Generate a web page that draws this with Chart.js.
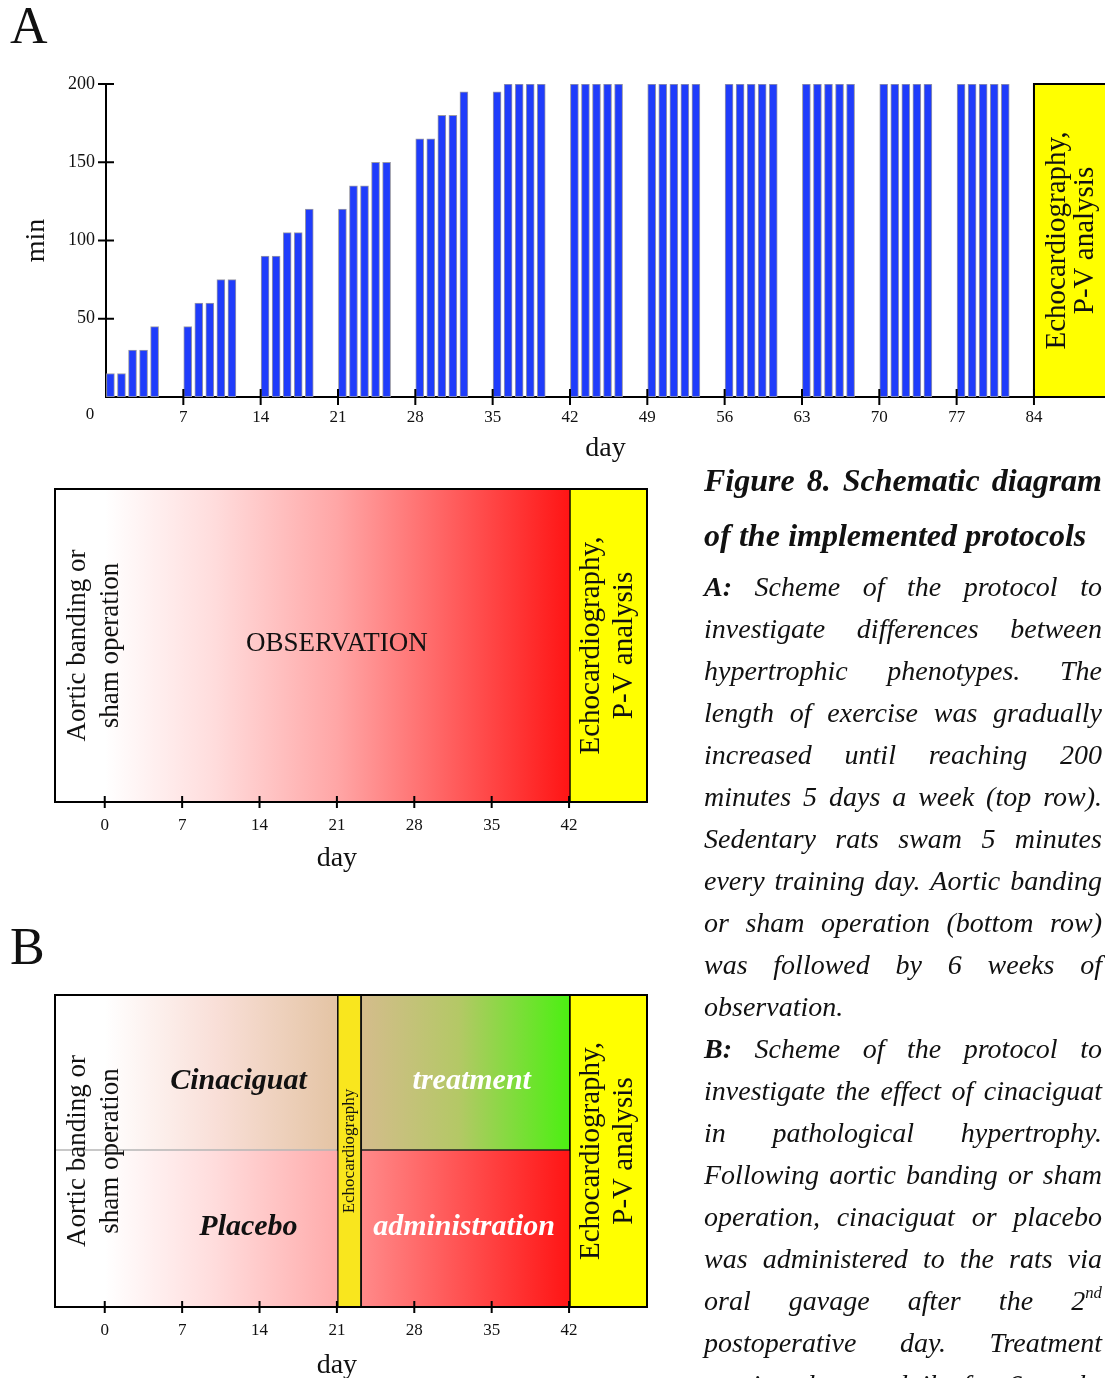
<!DOCTYPE html>
<html>
<head>
<meta charset="utf-8">
<script src="https://cdn.jsdelivr.net/npm/chart.js@4.4.1/dist/chart.umd.min.js"></script>
<style>
  html, body { margin: 0; padding: 0; background: #fff; }
  body { width: 1105px; height: 1378px; overflow: hidden; position: relative;
         font-family: "Liberation Serif", "Times New Roman", serif; color: #111; }
  canvas { position: absolute; left: 0; }
  .panel-label { position: absolute; left: 10px; font-size: 52px; line-height: 1; }
  .caption { position: absolute; left: 704px; width: 398px; font-style: italic; }
  .title { top: 453px; font-size: 32px; font-weight: bold; }
  .title .line { height: 55px; line-height: 55px; }
  .body { top: 566px; font-size: 28px; }
  .body .line { height: 42px; line-height: 42px; }
  .line { display: flex; justify-content: space-between; white-space: nowrap; }
  .line.end { justify-content: flex-start; gap: 0.26em; }
  sup { font-size: 0.6em; vertical-align: 0.7em; line-height: 0; }
</style>
</head>
<body>
<div class="panel-label" style="top:0">A</div>
<div class="panel-label" style="top:921px">B</div>
<canvas id="chartA" width="1105" height="410" style="top:60px"></canvas>
<canvas id="chartObs" width="700" height="410" style="top:470px"></canvas>
<canvas id="chartB" width="700" height="420" style="top:975px"></canvas>
<div class="caption title" id="capTitle"></div>
<div class="caption body" id="capBody"></div>

<script>
(function () {
    'use strict';

    // ---- data: swim training (panel A, top row) ----
    var trainingDays = [0, 1, 2, 3, 4, 7, 8, 9, 10, 11, 14, 15, 16, 17, 18, 21, 22, 23, 24, 25,
        28, 29, 30, 31, 32, 35, 36, 37, 38, 39, 42, 43, 44, 45, 46, 49, 50, 51, 52, 53,
        56, 57, 58, 59, 60, 63, 64, 65, 66, 67, 70, 71, 72, 73, 74, 77, 78, 79, 80, 81];
    var swimMinutes = [15, 15, 30, 30, 45, 45, 60, 60, 75, 75, 90, 90, 105, 105, 120, 120, 135, 135, 150, 150,
        165, 165, 180, 180, 195, 195, 200, 200, 200, 200, 200, 200, 200, 200, 200, 200, 200, 200, 200, 200,
        200, 200, 200, 200, 200, 200, 200, 200, 200, 200, 200, 200, 200, 200, 200, 200, 200, 200, 200, 200];
    var dayTicksA = [0, 7, 14, 21, 28, 35, 42, 49, 56, 63, 70, 77, 84];
    var minuteTicks = [50, 100, 150, 200];
    var finalDayA = 84;

    // ---- data: protocol timelines (days) ----
    var dayTicksB = [0, 7, 14, 21, 28, 35, 42];
    var observationPhase = [-4.5, 42];
    var earlyPhase = [-4.5, 21];
    var echoPhase = [21, 23.25];
    var treatmentPhase = [23.25, 42];
    var finalPhase = [42, 49.05];
    var groups = ['Cinaciguat', 'Placebo'];
    var phaseWords = ['treatment', 'administration'];

    var echoLabel = ['Echocardiography,', 'P-V analysis'];
    var surgeryLabel = ['Aortic banding or', 'sham operation'];

    var SERIF = "'Liberation Serif', 'Times New Roman', serif";
    var YELLOW = '#ffff00';
    var ECHO_YELLOW = '#f9e61e';
    var BLUE = '#1f3cfb';

    // gradient stops: [day, colour]
    var obsStops = [[0, '#ffffff'], [10, '#ffdcdc'], [21, '#ffa6a6'], [42, '#ff1515']];
    var earlyStops = [
        [[0, '#ffffff'], [10, '#f9dfd8'], [21, '#e4c4a4']],
        [[0, '#ffffff'], [10, '#ffdcdc'], [21, '#ffabab']]
    ];
    var treatStops = [
        [[23.25, '#d4bc8c'], [32, '#b4c866'], [42, '#4cf012']],
        [[23.25, '#ff8a8a'], [42, '#ff1515']]
    ];

    function gradient(chart, stops) {
        if (!chart.chartArea) return 'rgba(0,0,0,0)';
        var xs = chart.scales.x;
        var x0 = xs.getPixelForValue(stops[0][0]);
        var x1 = xs.getPixelForValue(stops[stops.length - 1][0]);
        var g = chart.ctx.createLinearGradient(x0, 0, x1, 0);
        stops.forEach(function (s) {
            g.addColorStop((xs.getPixelForValue(s[0]) - x0) / (x1 - x0), s[1]);
        });
        return g;
    }

    function line(ctx, x0, y0, x1, y1) {
        ctx.beginPath();
        ctx.moveTo(x0, y0);
        ctx.lineTo(x1, y1);
        ctx.stroke();
    }

    // rotated multi-line text, first line on the left
    function rotatedText(ctx, lines, cx, cy, gap, font, color) {
        ctx.save();
        ctx.translate(cx, cy);
        ctx.rotate(-Math.PI / 2);
        ctx.font = font;
        ctx.fillStyle = color || '#111';
        ctx.textAlign = 'center';
        ctx.textBaseline = 'middle';
        lines.forEach(function (t, i) {
            ctx.fillText(t, 0, (i - (lines.length - 1) / 2) * gap);
        });
        ctx.restore();
    }

    function centerText(ctx, text, x, y, font, color) {
        ctx.save();
        ctx.font = font;
        ctx.fillStyle = color || '#111';
        ctx.textAlign = 'center';
        ctx.textBaseline = 'middle';
        ctx.fillText(text, x, y);
        ctx.restore();
    }

    var baseOptions = {
        responsive: false,
        animation: false,
        events: [],
        devicePixelRatio: 1,
        plugins: { legend: { display: false }, tooltip: { enabled: false } }
    };

    // ---------- panel A, top: swim training ----------
    var topDecor = {
        id: 'topDecor',
        beforeDatasetsDraw: function (chart) {
            var ctx = chart.ctx, x = chart.scales.x, y = chart.scales.y;
            var x0 = x.getPixelForValue(finalDayA);
            var y0 = y.getPixelForValue(200), y1 = y.getPixelForValue(0);
            ctx.save();
            ctx.fillStyle = YELLOW;
            ctx.fillRect(x0, y0, chart.width - x0 + 4, y1 - y0);
            ctx.strokeStyle = '#000';
            ctx.lineWidth = 2;
            ctx.strokeRect(x0, y0, chart.width - x0 + 4, y1 - y0);
            ctx.restore();
            rotatedText(ctx, echoLabel, x0 + 37, (y0 + y1) / 2, 28, '29px ' + SERIF);
        },
        afterDraw: function (chart) {
            var ctx = chart.ctx, x = chart.scales.x, y = chart.scales.y, a = chart.chartArea;
            ctx.save();
            ctx.strokeStyle = '#000';
            ctx.lineWidth = 2;
            x.ticks.forEach(function (t) {
                if (t.value === 0) return;
                var px = x.getPixelForValue(t.value);
                line(ctx, px, a.bottom - 8, px, a.bottom + 8);
            });
            y.ticks.forEach(function (t) {
                var py = y.getPixelForValue(t.value);
                line(ctx, a.left - 8, py, a.left + 8, py);
            });
            ctx.restore();
            centerText(ctx, '0', a.left - 16, a.bottom + 18, '17px ' + SERIF);
        }
    };

    new Chart(document.getElementById('chartA'), {
        type: 'bar',
        data: {
            datasets: [{
                data: trainingDays.map(function (d, i) { return { x: d + 0.4, y: swimMinutes[i] }; }),
                backgroundColor: BLUE,
                borderColor: '#9a9aa6',
                borderWidth: 1,
                borderSkipped: false,
                barThickness: 8
            }]
        },
        plugins: [topDecor],
        options: Object.assign({}, baseOptions, {
            layout: { padding: { top: 24, left: 0, right: 0, bottom: 0 } },
            scales: {
                x: {
                    type: 'linear', min: 0, max: 90.43, offset: false,
                    afterBuildTicks: function (s) { s.ticks = dayTicksA.map(function (v) { return { value: v }; }); },
                    afterFit: function (s) { s.height = 73; },
                    grid: { display: false, drawTicks: false },
                    border: { display: true, color: '#000', width: 2 },
                    ticks: {
                        padding: 10, autoSkip: false, maxRotation: 0, color: '#111',
                        font: { family: SERIF, size: 17 },
                        callback: function (v) { return v === 0 ? '' : v; }
                    },
                    title: { display: true, text: 'day', color: '#111', font: { family: SERIF, size: 28 }, padding: { top: 0, bottom: 5 } }
                },
                y: {
                    min: 0, max: 200,
                    afterBuildTicks: function (s) { s.ticks = minuteTicks.map(function (v) { return { value: v }; }); },
                    afterFit: function (s) { s.width = 106; },
                    grid: { display: false, drawTicks: false },
                    border: { display: true, color: '#000', width: 2 },
                    ticks: { padding: 11, color: '#111', font: { family: SERIF, size: 18 } },
                    title: { display: true, text: 'min', color: '#111', font: { family: SERIF, size: 28 }, padding: { top: 20, bottom: 0 } }
                }
            }
        })
    });

    // ---------- timeline charts (panel A bottom, panel B) ----------
    function timelineDecor(drawInside) {
        return {
            id: 'timelineDecor',
            afterDatasetsDraw: function (chart) {
                var ctx = chart.ctx, x = chart.scales.x, a = chart.chartArea;
                if (drawInside) drawInside(chart);
                ctx.save();
                ctx.strokeStyle = '#000';
                ctx.lineWidth = 2;
                ctx.strokeRect(a.left, a.top, a.right - a.left, a.bottom - a.top);
                x.ticks.forEach(function (t) {
                    var px = x.getPixelForValue(t.value);
                    line(ctx, px, a.bottom - 6, px, a.bottom + 6);
                });
                ctx.restore();
                var cy = (a.top + a.bottom) / 2;
                rotatedText(ctx, surgeryLabel, a.left + 39, cy, 33, '27px ' + SERIF);
                var yx = (x.getPixelForValue(finalPhase[0]) + a.right) / 2;
                rotatedText(ctx, echoLabel, yx, cy, 33, '29px ' + SERIF);
            },
            afterDraw: function (chart) {
                var a = chart.chartArea;
                centerText(chart.ctx, 'day', chart.scales.x.getPixelForValue(21), a.bottom + chart.options.dayOffset, '28px ' + SERIF);
            }
        };
    }

    function timelineScales(height) {
        return {
            x: {
                type: 'linear', min: observationPhase[0], max: finalPhase[1],
                afterBuildTicks: function (s) { s.ticks = dayTicksB.map(function (v) { return { value: v }; }); },
                afterFit: function (s) { s.height = height; },
                grid: { display: false, drawTicks: false },
                border: { display: false },
                ticks: { padding: 13, autoSkip: false, maxRotation: 0, color: '#111', font: { family: SERIF, size: 17 } }
            },
            y: { display: false }
        };
    }

    var fullRow = { grouped: false, barPercentage: 1, categoryPercentage: 1, borderSkipped: false };

    // panel A, bottom: observation
    new Chart(document.getElementById('chartObs'), {
        type: 'bar',
        data: {
            labels: ['protocol'],
            datasets: [
                Object.assign({
                    data: [observationPhase],
                    backgroundColor: function (c) { return gradient(c.chart, obsStops); },
                    borderWidth: 0
                }, fullRow),
                Object.assign({
                    data: [finalPhase],
                    backgroundColor: YELLOW,
                    borderColor: '#000',
                    borderWidth: { left: 2, right: 0, top: 0, bottom: 0 }
                }, fullRow)
            ]
        },
        plugins: [timelineDecor(function (chart) {
            var a = chart.chartArea;
            centerText(chart.ctx, 'OBSERVATION', chart.scales.x.getPixelForValue(21), (a.top + a.bottom) / 2 - 2, '27px ' + SERIF);
        })],
        options: Object.assign({}, baseOptions, {
            indexAxis: 'y',
            dayOffset: 57,
            layout: { padding: { top: 19, left: 55, right: 53, bottom: 0 } },
            scales: timelineScales(78)
        })
    });

    // panel B: cinaciguat / placebo
    var groupLabelDays = [12.1, 13];
    var phaseLabelDays = [33.2, 32.5];
    var labelShift = [8, -2];

    new Chart(document.getElementById('chartB'), {
        type: 'bar',
        data: {
            labels: groups,
            datasets: [
                Object.assign({
                    data: [earlyPhase, earlyPhase],
                    backgroundColor: function (c) { return gradient(c.chart, earlyStops[c.dataIndex || 0]); },
                    borderColor: 'rgba(90,90,90,0.45)',
                    borderWidth: function (c) { return c.dataIndex === 0 ? { bottom: 2, top: 0, left: 0, right: 0 } : 0; }
                }, fullRow),
                Object.assign({
                    data: [echoPhase, echoPhase],
                    backgroundColor: ECHO_YELLOW,
                    borderColor: '#111',
                    borderWidth: { left: 2, right: 2, top: 0, bottom: 0 }
                }, fullRow),
                Object.assign({
                    data: [treatmentPhase, treatmentPhase],
                    backgroundColor: function (c) { return gradient(c.chart, treatStops[c.dataIndex || 0]); },
                    borderColor: '#222',
                    borderWidth: function (c) { return c.dataIndex === 0 ? { bottom: 2, top: 0, left: 0, right: 0 } : 0; }
                }, fullRow),
                Object.assign({
                    data: [finalPhase, finalPhase],
                    backgroundColor: YELLOW,
                    borderColor: '#000',
                    borderWidth: { left: 2, right: 0, top: 0, bottom: 0 }
                }, fullRow)
            ]
        },
        plugins: [timelineDecor(function (chart) {
            var ctx = chart.ctx, x = chart.scales.x, y = chart.scales.y, a = chart.chartArea;
            var font = 'italic bold 30px ' + SERIF;
            groups.forEach(function (g, i) {
                var py = y.getPixelForValue(i) + labelShift[i];
                centerText(ctx, g, x.getPixelForValue(groupLabelDays[i]), py, font, '#111');
                centerText(ctx, phaseWords[i], x.getPixelForValue(phaseLabelDays[i]), py, font, '#ffffff');
            });
            var ex = (x.getPixelForValue(echoPhase[0]) + x.getPixelForValue(echoPhase[1])) / 2;
            rotatedText(ctx, ['Echocardiography'], ex, (a.top + a.bottom) / 2, 0, '17px ' + SERIF);
        })],
        options: Object.assign({}, baseOptions, {
            indexAxis: 'y',
            dayOffset: 59,
            layout: { padding: { top: 20, left: 55, right: 53, bottom: 0 } },
            scales: timelineScales(88)
        })
    });

    // ---------- caption ----------
    var titleLines = ['Figure 8. Schematic diagram', 'of the implemented protocols'];
    var captionLines = [
        '<b>A:</b> Scheme of the protocol to',
        'investigate differences between',
        'hypertrophic phenotypes. The',
        'length of exercise was gradually',
        'increased until reaching 200',
        'minutes 5 days a week (top row).',
        'Sedentary rats swam 5 minutes',
        'every training day. Aortic banding',
        'or sham operation (bottom row)',
        'was followed by 6 weeks of',
        'observation.',
        '<b>B:</b> Scheme of the protocol to',
        'investigate the effect of cinaciguat',
        'in pathological hypertrophy.',
        'Following aortic banding or sham',
        'operation, cinaciguat or placebo',
        'was administered to the rats via',
        'oral gavage after the 2<sup>nd</sup>',
        'postoperative day. Treatment',
        'continued once daily for 6 weeks'
    ];

    function fillLines(el, lines, ends) {
        lines.forEach(function (text, i) {
            var row = document.createElement('div');
            row.className = 'line' + (ends.indexOf(i) >= 0 ? ' end' : '');
            text.split(' ').forEach(function (w) {
                var s = document.createElement('span');
                s.innerHTML = w;
                row.appendChild(s);
            });
            el.appendChild(row);
        });
    }

    fillLines(document.getElementById('capTitle'), titleLines, [1]);
    fillLines(document.getElementById('capBody'), captionLines, [10]);
})();
</script>
</body>
</html>
